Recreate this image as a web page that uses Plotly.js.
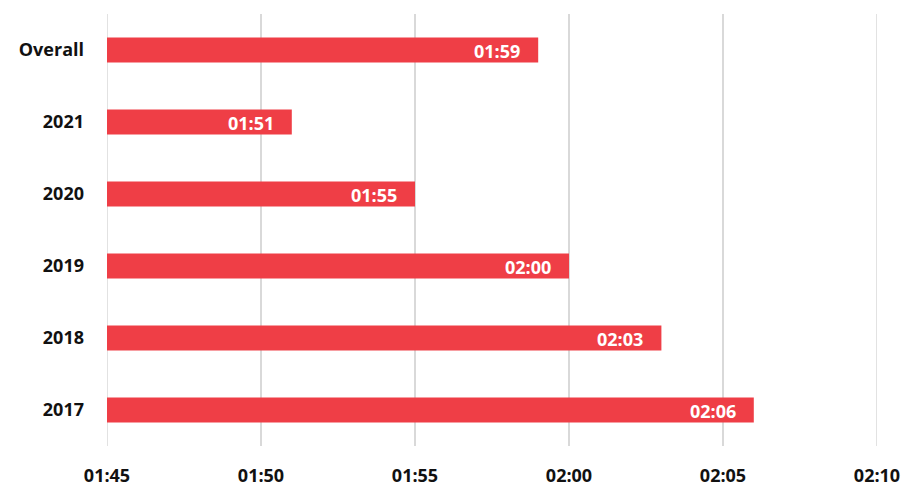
<!DOCTYPE html>
<html>
<head>
<meta charset="utf-8">
<script src="https://cdn.plot.ly/plotly-3.0.1.min.js"></script>
<style>
  html, body { margin: 0; padding: 0; background: #ffffff; }
  #chart { width: 906px; height: 489px; }
</style>
</head>
<body>
<div id="chart"></div>
<script>
// Average finishing times (mm:ss), top row first
const categories = ["Overall", "2021", "2020", "2019", "2018", "2017"];
const times = ["01:59", "01:51", "01:55", "02:00", "02:03", "02:06"];
const tickLabels = ["01:45", "01:50", "01:55", "02:00", "02:05", "02:10"];

const toSeconds = s => { const [m, sec] = s.split(":").map(Number); return m * 60 + sec; };
const values = times.map(toSeconds);
const tickVals = tickLabels.map(toSeconds);

const FONT = "'Open Sans', Lato, sans-serif";
const BAR = "#ef3e46";
const GRID = "#d9d9d9";

const trace = {
  type: "bar",
  orientation: "h",
  y: categories,
  x: values,
  marker: { color: BAR, line: { width: 0 } },
  width: 0.35,
  hoverinfo: "skip"
};

// value labels sit inside the bar end; y given as category index
const annotations = categories.map((c, i) => ({
  x: values[i], y: i, xref: "x", yref: "y",
  text: times[i], showarrow: false,
  xanchor: "right", yanchor: "middle", xshift: -16, yshift: -1,
  font: { family: FONT, size: 18, color: "#ffffff", weight: 700 }
}));

// gridlines at both ends of the axis range, drawn beneath the bars
const edgeLines = [tickVals[0], tickVals[tickVals.length - 1]].map(v => ({
  type: "line", layer: "below",
  xref: "x", yref: "paper", x0: v, x1: v, y0: 0, y1: 1,
  line: { color: GRID, width: 1.5 }
}));

const layout = {
  width: 906, height: 489,
  margin: { l: 107, r: 29, t: 14, b: 43 },
  paper_bgcolor: "#ffffff", plot_bgcolor: "#ffffff",
  showlegend: false,
  xaxis: {
    range: [tickVals[0], tickVals[tickVals.length - 1]],
    tickvals: tickVals, ticktext: tickLabels,
    showgrid: true, gridcolor: GRID, gridwidth: 1.5,
    zeroline: false, showline: false, ticks: "",
    ticklabelstandoff: 17,
    tickfont: { family: FONT, size: 18, color: "#111111", weight: 700 },
    fixedrange: true
  },
  yaxis: {
    type: "category",
    categoryorder: "array", categoryarray: categories,
    range: [categories.length - 0.5, -0.5],
    autorange: false,
    showgrid: false, zeroline: false, showline: false, ticks: "",
    ticklabelstandoff: 22,
    tickfont: { family: FONT, size: 18, color: "#111111", weight: 700 },
    fixedrange: true
  },
  shapes: edgeLines,
  annotations: annotations
};

Plotly.newPlot("chart", [trace], layout, { displayModeBar: false, staticPlot: true });
</script>
</body>
</html>
